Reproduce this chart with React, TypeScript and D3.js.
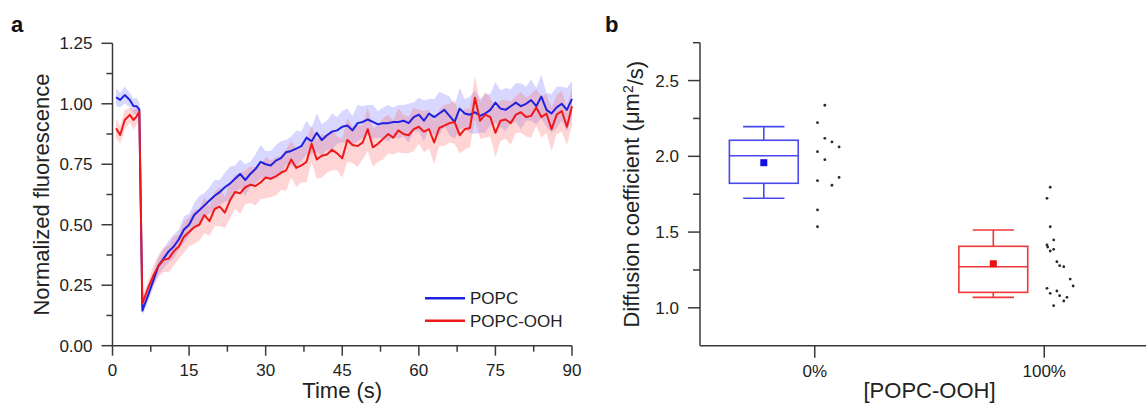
import React from 'react';
import * as d3 from 'd3';

// ---- panel a: FRAP recovery (time in s) ----
const times = [
  0.7, 1.5, 2.4, 3.4, 4.1, 4.7, 5.25, 5.85,
  7, 8, 9, 10, 11, 12, 13, 14, 15, 16,
  17, 18, 19, 20, 21, 22, 23, 24, 25, 26,
  27, 28, 29, 30, 31, 32, 33, 34, 35, 36,
  37, 38, 39, 40, 41, 42, 43, 44, 45, 46,
  47, 48, 49, 50, 51, 52, 53, 54, 55, 56,
  57, 58, 59, 60, 61, 62, 63, 64, 65, 66,
  67, 68, 69, 70, 71, 72, 73, 74, 75, 76,
  77, 78, 79, 80, 81, 82, 83, 84, 85, 86,
  87, 88, 89, 90
];

const popcMean = [
  1.027, 1.016, 1.036, 1.016, 0.991, 0.990, 0.977, 0.145,
  0.21, 0.27, 0.33, 0.36, 0.39, 0.41, 0.44, 0.48, 0.50, 0.54,
  0.56, 0.58, 0.60, 0.62, 0.635, 0.655, 0.67, 0.69, 0.71, 0.685,
  0.71, 0.73, 0.76, 0.75, 0.745, 0.765, 0.775, 0.80, 0.805, 0.815,
  0.825, 0.86, 0.845, 0.88, 0.85, 0.87, 0.885, 0.89, 0.905, 0.91,
  0.89, 0.92, 0.925, 0.935, 0.925, 0.915, 0.92, 0.92, 0.925, 0.925,
  0.93, 0.92, 0.945, 0.955, 0.93, 0.96, 0.945, 0.96, 0.975, 0.95,
  0.925, 0.98, 0.96, 0.955, 0.965, 0.95, 0.96, 0.975, 1.005, 0.98,
  0.975, 0.99, 1.005, 0.99, 1.0, 1.015, 0.99, 1.03, 0.975, 0.96,
  0.985, 1.0, 0.975, 1.02
];

const popcSd = [
  0.035, 0.03, 0.035, 0.03, 0.03, 0.035, 0.03, 0.02,
  0.025, 0.03, 0.035, 0.04, 0.045, 0.05, 0.04, 0.055, 0.045, 0.05,
  0.06, 0.05, 0.055, 0.065, 0.05, 0.06, 0.07, 0.055, 0.06, 0.065,
  0.05, 0.06, 0.07, 0.055, 0.06, 0.065, 0.07, 0.05, 0.06, 0.075,
  0.06, 0.07, 0.055, 0.08, 0.065, 0.06, 0.075, 0.055, 0.065, 0.07,
  0.06, 0.075, 0.065, 0.06, 0.07, 0.055, 0.065, 0.075, 0.06, 0.07,
  0.065, 0.08, 0.06, 0.07, 0.085, 0.06, 0.075, 0.09, 0.065, 0.08,
  0.07, 0.085, 0.06, 0.075, 0.09, 0.07, 0.08, 0.065, 0.085, 0.075,
  0.09, 0.07, 0.08, 0.095, 0.07, 0.085, 0.075, 0.09, 0.07, 0.08,
  0.085, 0.07, 0.09, 0.075
];

const oohMean = [
  0.899, 0.871, 0.933, 0.954, 0.933, 0.947, 0.967, 0.175,
  0.24, 0.29, 0.33, 0.355, 0.36, 0.39, 0.41, 0.45, 0.47, 0.49,
  0.50, 0.54, 0.515, 0.565, 0.575, 0.55, 0.60, 0.635, 0.63, 0.655,
  0.665, 0.66, 0.675, 0.695, 0.69, 0.70, 0.715, 0.725, 0.77, 0.735,
  0.745, 0.76, 0.835, 0.77, 0.785, 0.79, 0.81, 0.795, 0.775, 0.85,
  0.83, 0.825, 0.84, 0.895, 0.82, 0.835, 0.855, 0.875, 0.86, 0.89,
  0.875, 0.87, 0.895, 0.905, 0.885, 0.895, 0.84, 0.90, 0.91, 0.92,
  0.925, 0.87, 0.895, 0.90, 1.025, 0.93, 0.955, 0.945, 0.88, 0.93,
  0.935, 0.92, 0.955, 0.965, 0.945, 0.95, 0.985, 0.945, 0.96, 0.895,
  0.955, 0.97, 0.905, 0.99
];

const oohSd = [
  0.04, 0.035, 0.04, 0.03, 0.04, 0.035, 0.03, 0.025,
  0.03, 0.04, 0.045, 0.05, 0.055, 0.06, 0.05, 0.065, 0.06, 0.07,
  0.065, 0.075, 0.06, 0.07, 0.08, 0.065, 0.075, 0.07, 0.085, 0.07,
  0.075, 0.08, 0.07, 0.085, 0.075, 0.08, 0.07, 0.085, 0.075, 0.08,
  0.07, 0.085, 0.075, 0.08, 0.09, 0.075, 0.085, 0.07, 0.08, 0.09,
  0.075, 0.085, 0.07, 0.09, 0.08, 0.075, 0.085, 0.08, 0.07, 0.09,
  0.08, 0.075, 0.09, 0.07, 0.085, 0.08, 0.09, 0.075, 0.085, 0.08,
  0.09, 0.075, 0.085, 0.08, 0.09, 0.075, 0.095, 0.08, 0.1, 0.085,
  0.08, 0.09, 0.075, 0.085, 0.08, 0.09, 0.075, 0.085, 0.08, 0.09,
  0.08, 0.085, 0.075, 0.08
];

const xTicksA = [0, 15, 30, 45, 60, 75, 90];
const xMinorA = [7.5, 22.5, 37.5, 52.5, 67.5, 82.5];
const yTicksA = [0, 0.25, 0.5, 0.75, 1.0, 1.25];
const yMinorA = [0.125, 0.375, 0.625, 0.875, 1.125];

// ---- panel b: diffusion coefficients ----
const groups = ['0%', '100%'];
const boxStats = [
  { lo: 1.723, q1: 1.822, med: 2.004, q3: 2.106, hi: 2.196, mean: 1.958 },
  { lo: 1.069, q1: 1.102, med: 1.271, q3: 1.406, hi: 1.514, mean: 1.291 }
];
const pts0 = [2.337, 2.222, 2.119, 2.095, 2.062, 2.031, 1.978, 1.861, 1.839, 1.809, 1.646, 1.535];
const jit0 = [0.044, 0.012, 0.044, 0.075, 0.106, 0.012, 0.044, 0.106, 0.012, 0.075, 0.012, 0.012];
const pts100 = [1.796, 1.723, 1.535, 1.448, 1.415, 1.401, 1.386, 1.375, 1.304, 1.278,
  1.271, 1.190, 1.144, 1.129, 1.096, 1.111, 1.080, 1.069, 1.045, 1.014];
const jit100 = [0.026, 0.012, 0.026, 0.041, 0.012, 0.015, 0.041, 0.026, 0.055, 0.067,
  0.085, 0.113, 0.126, 0.012, 0.026, 0.055, 0.067, 0.099, 0.085, 0.041];
const yTicksB = [1.0, 1.5, 2.0, 2.5];
const yMinorB = [1.25, 1.75, 2.25, 2.75];

const FONT = '"Liberation Sans", Arial, Helvetica, sans-serif';
const AXIS = '#3a3a3a';
const TXT = '#222';
const BLUE = '#2020e0';
const RED = '#f01818';

export default function App() {
  // scales panel a
  const xA = d3.scaleLinear().domain([0, 90]).range([112.5, 572]);
  const yA = d3.scaleLinear().domain([0, 1.25]).range([345.7, 43.3]);

  const band = (mean: number[], sd: number[]) =>
    d3.area<number>()
      .x((_, i) => xA(times[i]))
      .y0((d, i) => yA(d - sd[i]))
      .y1((d, i) => yA(d + sd[i]))(mean) || '';
  const line = (mean: number[]) =>
    d3.line<number>().x((_, i) => xA(times[i])).y(d => yA(d))(mean) || '';

  // scales panel b
  const xB = d3.scaleLinear().domain([0.5, 2.5]).range([700, 1159]);
  const yB = d3.scaleLinear().domain([0.75, 2.75]).range([345.7, 42.7]);
  const boxOffset = 0.222;
  const boxW = 0.3;
  const capW = 0.18;
  const boxColors = ['#4848ee', '#ee3838'];
  const meanColors = ['#1010e0', '#e81010'];

  const y0A = yA(0);
  const x0A = xA(0);
  const y0B = yB(0.75);
  const x0B = xB(0.5);

  return (
    <svg width={1146} height={404} style={{ position: 'absolute', left: 0, top: 0, fontFamily: FONT }}>
      {/* panel labels */}
      <text x={11} y={32} fontSize={22} fontWeight="bold" fill="#111">a</text>
      <text x={605} y={32} fontSize={22} fontWeight="bold" fill="#111">b</text>

      {/* ---------- panel a ---------- */}
      <path d={band(popcMean, popcSd)} fill="rgba(110,110,255,0.28)" stroke="none" />
      <path d={band(oohMean, oohSd)} fill="rgba(250,100,100,0.28)" stroke="none" />
      <path d={line(popcMean)} fill="none" stroke={BLUE} strokeWidth={2} strokeLinejoin="round" />
      <path d={line(oohMean)} fill="none" stroke={RED} strokeWidth={2} strokeLinejoin="round" />

      <line x1={x0A} x2={x0A} y1={yA(1.25)} y2={y0A} stroke={AXIS} strokeWidth={1.5} />
      <line x1={x0A} x2={xA(90)} y1={y0A} y2={y0A} stroke={AXIS} strokeWidth={1.5} />
      {yTicksA.map(v => (
        <g key={'ya' + v}>
          <line x1={x0A - 11} x2={x0A} y1={yA(v)} y2={yA(v)} stroke={AXIS} strokeWidth={1.5} />
          <text x={x0A - 20} y={yA(v)} dy="0.36em" textAnchor="end" fontSize={17} fill={TXT}>
            {d3.format('.2f')(v)}
          </text>
        </g>
      ))}
      {yMinorA.map(v => (
        <line key={'yma' + v} x1={x0A - 6} x2={x0A} y1={yA(v)} y2={yA(v)} stroke={AXIS} strokeWidth={1.5} />
      ))}
      {xTicksA.map(v => (
        <g key={'xa' + v}>
          <line x1={xA(v)} x2={xA(v)} y1={y0A} y2={y0A + 10} stroke={AXIS} strokeWidth={1.5} />
          <text x={xA(v)} y={y0A + 30} textAnchor="middle" fontSize={17} fill={TXT}>{v}</text>
        </g>
      ))}
      {xMinorA.map(v => (
        <line key={'xma' + v} x1={xA(v)} x2={xA(v)} y1={y0A} y2={y0A + 6} stroke={AXIS} strokeWidth={1.5} />
      ))}
      <text x={xA(45)} y={398} textAnchor="middle" fontSize={22} fill={TXT}>Time (s)</text>
      <text transform={`translate(49,${(yA(0) + yA(1.25)) / 2}) rotate(-90)`} textAnchor="middle"
        fontSize={22} fill={TXT}>Normalized fluorescence</text>

      {/* legend */}
      <line x1={425} x2={465} y1={298.3} y2={298.3} stroke={BLUE} strokeWidth={2.5} />
      <text x={470} y={298.3} dy="0.36em" fontSize={17} fill={TXT}>POPC</text>
      <line x1={425} x2={465} y1={320.7} y2={320.7} stroke={RED} strokeWidth={2.5} />
      <text x={470} y={320.7} dy="0.36em" fontSize={17} fill={TXT}>POPC-OOH</text>

      {/* ---------- panel b ---------- */}
      <line x1={x0B} x2={x0B} y1={yB(2.75)} y2={y0B} stroke={AXIS} strokeWidth={1.5} />
      <line x1={x0B} x2={1146} y1={y0B} y2={y0B} stroke={AXIS} strokeWidth={1.5} />
      {yTicksB.map(v => (
        <g key={'yb' + v}>
          <line x1={x0B - 12} x2={x0B} y1={yB(v)} y2={yB(v)} stroke={AXIS} strokeWidth={1.5} />
          <text x={x0B - 21} y={yB(v)} dy="0.36em" textAnchor="end" fontSize={17} fill={TXT}>
            {d3.format('.1f')(v)}
          </text>
        </g>
      ))}
      {yMinorB.map(v => (
        <line key={'ymb' + v} x1={x0B - 7} x2={x0B} y1={yB(v)} y2={yB(v)} stroke={AXIS} strokeWidth={1.5} />
      ))}
      {groups.map((g, i) => (
        <g key={'xb' + g}>
          <line x1={xB(i + 1)} x2={xB(i + 1)} y1={y0B} y2={y0B + 12} stroke={AXIS} strokeWidth={1.5} />
          <text x={xB(i + 1)} y={y0B + 31} textAnchor="middle" fontSize={17} fill={TXT}>{g}</text>
        </g>
      ))}
      <text x={(xB(1) + xB(2)) / 2} y={398} textAnchor="middle" fontSize={22} fill={TXT}>[POPC-OOH]</text>
      <text transform={`translate(639,${(yB(0.75) + yB(2.75)) / 2}) rotate(-90)`} textAnchor="middle"
        fontSize={22} fill={TXT}>
        Diffusion coefficient (μm<tspan dy="-0.45em" fontSize={14}>2</tspan><tspan dy="0.45em">/s)</tspan>
      </text>

      {boxStats.map((s, i) => {
        const c = i + 1 - boxOffset;
        const col = boxColors[i];
        return (
          <g key={'box' + i} stroke={col} strokeWidth={1.6} fill="none">
            <rect x={xB(c - boxW / 2)} y={yB(s.q3)} width={xB(c + boxW / 2) - xB(c - boxW / 2)}
              height={yB(s.q1) - yB(s.q3)} />
            <line x1={xB(c - boxW / 2)} x2={xB(c + boxW / 2)} y1={yB(s.med)} y2={yB(s.med)} />
            <line x1={xB(c)} x2={xB(c)} y1={yB(s.q3)} y2={yB(s.hi)} />
            <line x1={xB(c)} x2={xB(c)} y1={yB(s.q1)} y2={yB(s.lo)} />
            <line x1={xB(c - capW / 2)} x2={xB(c + capW / 2)} y1={yB(s.hi)} y2={yB(s.hi)} />
            <line x1={xB(c - capW / 2)} x2={xB(c + capW / 2)} y1={yB(s.lo)} y2={yB(s.lo)} />
            <rect x={xB(c) - 3.5} y={yB(s.mean) - 3.5} width={7} height={7} fill={meanColors[i]} stroke="none" />
          </g>
        );
      })}
      {pts0.map((v, i) => (
        <circle key={'p0' + i} cx={xB(1 + jit0[i])} cy={yB(v)} r={1.4} fill="#2a2a2a" />
      ))}
      {pts100.map((v, i) => (
        <circle key={'p1' + i} cx={xB(2 + jit100[i])} cy={yB(v)} r={1.4} fill="#2a2a2a" />
      ))}
    </svg>
  );
}
